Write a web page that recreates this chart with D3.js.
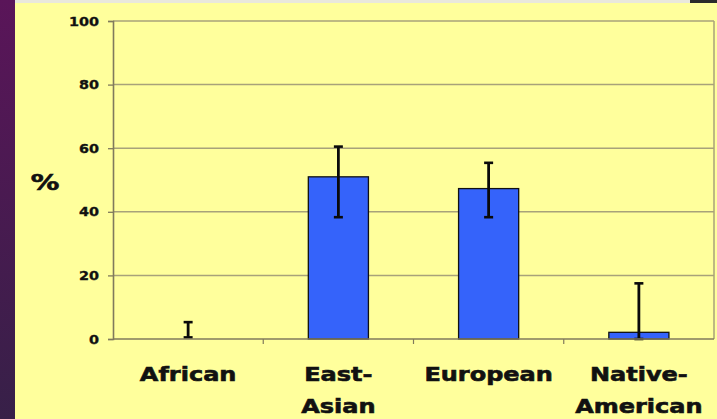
<!DOCTYPE html>
<html><head><meta charset="utf-8">
<script src="https://cdn.jsdelivr.net/npm/d3@7"></script>
<style>html,body{margin:0;padding:0;overflow:hidden;background:#3a1f4a}</style>
</head><body>
<svg id="c" width="717" height="419"></svg>
<script>
const categories = ["African", "East-Asian", "European", "Native-American"];
const labelLines = [["African"], ["East-", "Asian"], ["European"], ["Native-", "American"]];
const values = [0, 51.0, 47.3, 2.1];
const errLow = [0.5, 38.3, 38.3, 0];
const errHigh = [5.3, 60.5, 55.4, 17.5];
const yTicks = [0, 20, 40, 60, 80, 100];
const yLabel = "%";

const svg = d3.select("#c");
const defs = svg.append("defs");
const lg = defs.append("linearGradient").attr("id", "pg").attr("x1", 0).attr("y1", 0).attr("x2", 0).attr("y2", 1);
lg.append("stop").attr("offset", "0%").attr("stop-color", "#5a1559");
lg.append("stop").attr("offset", "100%").attr("stop-color", "#372048");
svg.append("rect").attr("x", 0).attr("y", 0).attr("width", 717).attr("height", 419).attr("fill", "url(#pg)");
svg.append("rect").attr("x", 15).attr("y", 0).attr("width", 702).attr("height", 419).attr("fill", "#ffff9c");
svg.append("rect").attr("x", 15).attr("y", 0).attr("width", 702).attr("height", 3).attr("fill", "#e9e8dc");
svg.append("rect").attr("x", 690).attr("y", 0).attr("width", 27).attr("height", 3).attr("fill", "#2a2a2a");

const m = {l: 113, r: 714, t: 21, b: 339};
const x = d3.scaleBand().domain(categories).range([m.l, m.r]).paddingInner(0.6).paddingOuter(0.3);
const y = d3.scaleLinear().domain([0, 100]).range([m.b, m.t]);

// gridlines
svg.append("g").selectAll("line").data(yTicks.filter(d => d > 0)).join("line")
  .attr("x1", m.l).attr("x2", m.r).attr("y1", d => y(d)).attr("y2", d => y(d))
  .attr("stroke", "#a8a27a").attr("stroke-width", 1.5);
svg.append("line").attr("x1", m.r).attr("x2", m.r).attr("y1", m.t).attr("y2", m.b)
  .attr("stroke", "#a8a27a").attr("stroke-width", 1.5);

// bars
svg.append("g").selectAll("rect").data(categories).join("rect")
  .attr("x", d => x(d)).attr("width", x.bandwidth())
  .attr("y", (d, i) => y(values[i])).attr("height", (d, i) => y(0) - y(values[i]))
  .attr("fill", "#3563fa").attr("stroke", "#111").attr("stroke-width", 1.3);

// error bars
const eg = svg.append("g").attr("stroke", "#0a0a0a");
categories.forEach((c, i) => {
  const cx = x(c) + x.bandwidth() / 2;
  eg.append("line").attr("x1", cx).attr("x2", cx).attr("y1", y(errLow[i])).attr("y2", y(errHigh[i])).attr("stroke-width", 2.8);
  eg.append("line").attr("x1", cx - 4.5).attr("x2", cx + 4.5).attr("y1", y(errHigh[i])).attr("y2", y(errHigh[i])).attr("stroke-width", 2.6);
  eg.append("line").attr("x1", cx - 4.5).attr("x2", cx + 4.5).attr("y1", y(errLow[i])).attr("y2", y(errLow[i])).attr("stroke-width", 2.6);
});

// y axis
const ya = svg.append("g").attr("transform", `translate(${m.l},0)`)
  .call(d3.axisLeft(y).tickValues(yTicks).tickSize(5).tickPadding(9).tickFormat(d3.format("d")));
ya.select(".domain").attr("stroke", "#807a5c").attr("stroke-width", 1.6);
ya.selectAll(".tick line").attr("stroke", "#807a5c").attr("stroke-width", 1.3);
ya.selectAll(".tick text").attr("font-family", "DejaVu Sans").attr("font-weight", "bold")
  .attr("font-size", 12.5).attr("fill", "#111").attr("stroke", "#111").attr("stroke-width", 0.35)
  .attr("transform", `translate(-14,0) scale(1.15,1) translate(14,0)`);

// x axis
const xa = svg.append("g").attr("transform", `translate(0,${m.b})`);
xa.append("line").attr("x1", m.l).attr("x2", m.r).attr("stroke", "#807a5c").attr("stroke-width", 1.6);
const bounds = categories.slice(1).map(c => x(c) - x.step() * x.paddingInner() / 2);
xa.selectAll(".bt").data(bounds).join("line").attr("class", "bt")
  .attr("x1", d => d).attr("x2", d => d).attr("y1", 0).attr("y2", 5)
  .attr("stroke", "#807a5c").attr("stroke-width", 1.2);

// category labels
categories.forEach((c, i) => {
  const cx = x(c) + x.bandwidth() / 2;
  labelLines[i].forEach((ln, j) => {
    svg.append("text").attr("transform", `translate(${cx},${381 + j * 32}) scale(1.2,1)`)
      .attr("text-anchor", "middle").attr("font-family", "DejaVu Sans").attr("font-weight", "bold")
      .attr("font-size", 20).attr("fill", "#111").attr("stroke", "#111").attr("stroke-width", 0.6).text(ln);
  });
});

// y label
svg.append("text").attr("transform", `translate(45,190) scale(1.3,1)`)
  .attr("text-anchor", "middle").attr("font-family", "DejaVu Sans").attr("font-weight", "bold")
  .attr("font-size", 22).attr("fill", "#111").attr("stroke", "#111").attr("stroke-width", 0.6).text(yLabel);
</script>
</body></html>
